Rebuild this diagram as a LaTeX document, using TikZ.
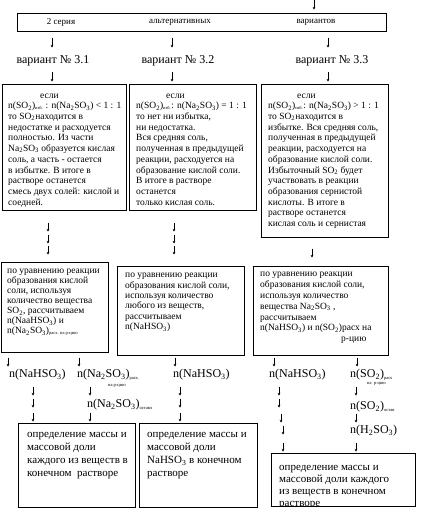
\documentclass[tikz,border=0pt]{standalone}
\usepackage{fontspec}
\setmainfont{Liberation Serif}
\usetikzlibrary{arrows.meta}
\newcommand\lsub[1]{\textsubscript{#1}}
\newcommand\tsub[1]{\textsubscript{\fontsize{4.5}{5}\selectfont #1}}
\begin{document}
\begin{tikzpicture}[x=1pt,y=-1pt,
  frame/.style={draw, line width=0.8pt, inner sep=0pt, anchor=north west},
  btext/.style={inner sep=0pt, anchor=north west, align=left, font=\fontsize{9.5}{10.7}\selectfont},
  ltext/.style={inner sep=0pt, anchor=north west, align=left, font=\fontsize{11}{13}\selectfont},
  big/.style={inner sep=0pt, font=\fontsize{12}{14}\selectfont},
  small/.style={inner sep=0pt, font=\fontsize{9}{10}\selectfont},
  tiny/.style={inner sep=0pt, anchor=west, font=\fontsize{4.5}{5}\selectfont},
  garrow/.style={line width=0.5pt, -{Stealth[length=2.6pt,width=2.8pt]}}]
\useasboundingbox (0,0) rectangle (424,513);

% top box
\node[frame, minimum width=369pt, minimum height=18pt] (top) at (17,13) {};
\node[small] (s1) at (61,22) {2 серия};
\node[small] (s2) at (180,22) {альтернативных};
\node[small] (s3) at (316,22) {вариантов};

\node[big] (v1) at (53,61) {вариант № 3.1};
\node[big] (v2) at (178,61) {вариант № 3.2};
\node[big] (v3) at (332,61) {вариант № 3.3};

% row 1 boxes
\node[frame, minimum width=124pt, minimum height=126pt] (b1) at (2,84) {};
\node[frame, minimum width=127pt, minimum height=126pt] (b2) at (129,84) {};
\node[frame, minimum width=127pt, minimum height=153pt] (b3) at (261,84) {};

\node[btext] (t1) at (8,90.5) {\strut\hspace*{32pt}если\\
n(SO\lsub{2})\tsub{изб.} : n(Na\lsub{2}SO\lsub{3}) < 1 : 1\\
то SO\lsub{2}находится в\\
недостатке и расходуется\\
полностью. Из части\\
Na\lsub{2}SO\lsub{3} образуется кислая\\
соль, а часть - остается\\
в избытке. В итоге в\\
растворе останется\\
смесь двух солей: кислой и\\
соедней.};

\node[btext] (t2) at (136,90.5) {\strut\hspace*{30pt}если\\
n(SO\lsub{2})\tsub{изб.}: n(Na\lsub{2}SO\lsub{3}) = 1 : 1\\
то нет ни избытка,\\
ни недостатка.\\
Вся средняя соль,\\
полученная в предыдущей\\
реакции, расходуется на\\
образование кислой соли.\\
В итоге в растворе\\
останется\\
только кислая соль.};

\node[btext] (t3) at (268,90.5) {\strut\hspace*{29pt}если\\
n(SO\lsub{2})\tsub{изб.}: n(Na\lsub{2}SO\lsub{3}) > 1 : 1\\
то SO\lsub{2}находится в\\
избытке. Вся средняя соль,\\
полученная в предыдущей\\
реакции, расходуется на\\
образование кислой соли.\\
Избыточный SO\lsub{2} будет\\
участвовать в реакции\\
образования сернистой\\
кислоты. В итоге в\\
растворе останется\\
кислая соль и сернистая};

% row 2 boxes
\node[frame, minimum width=107pt, minimum height=90pt] (b4) at (1,262) {};
\node[frame, minimum width=127pt, minimum height=89pt] (b5) at (117,266) {};
\node[frame, minimum width=135pt, minimum height=89pt] (b6) at (253,266) {};

\node[btext, font=\fontsize{9.5}{10}\selectfont] (t4) at (7,266.6) {\strut по уравнению реакции\\
образования кислой\\
соли, используя\\
количество вещества\\
SO\lsub{2}, рассчитываем\\
n(NaaHSO\lsub{3}) и\\
n(Na\lsub{2}SO\lsub{3})\tsub{расх. на р-цию}};

\node[btext, font=\fontsize{9.5}{10.4}\selectfont] (t5) at (125,270.3) {\strut по уравнению реакции\\
образования кислой соли,\\
используя количество\\
любого из веществ,\\
рассчитываем\\
n(NaHSO\lsub{3})};

\node[btext, font=\fontsize{9.5}{10.8}\selectfont] (t6) at (260,269.2) {\strut по уравнению реакции\\
образования кислой соли,\\
используя количество\\
вещества Na\lsub{2}SO\lsub{3} ,\\
рассчитываем\\
n(NaHSO\lsub{3}) и n(SO\lsub{2})расх на\\
\hspace*{81pt}р-цию};

% row 3 labels
\node[big, anchor=west] (n1) at (9,375) {n(NaHSO\lsub{3})};
\node[big, anchor=west] (n2) at (77,375) {n(Na\lsub{2}SO\lsub{3})\tsub{расх.}};
\node[tiny] (n2b) at (108,386) {на р-цию};
\node[big, anchor=west] (n3) at (173,375) {n(NaHSO\lsub{3})};
\node[big, anchor=west] (n4) at (269,375) {n(NaHSO\lsub{3})};
\node[big, anchor=west] (n5) at (350,375) {n(SO\lsub{2})\tsub{расх}};
\node[tiny] (n5b) at (367,384) {на\ \ р-цию};
\node[big, anchor=west] (n6) at (87,405) {n(Na\lsub{2}SO\lsub{3})\tsub{оставл}};
\node[big, anchor=west] (n7) at (350,407) {n(SO\lsub{2})\tsub{остав}};
\node[big, anchor=west] (n8) at (350,431) {n(H\lsub{2}SO\lsub{3})};

% bottom boxes
\node[frame, minimum width=117pt, minimum height=84pt] (b7) at (18,423) {};
\node[frame, minimum width=118pt, minimum height=84pt] (b8) at (139,423) {};
\node[frame, minimum width=144pt, minimum height=53pt] (b9) at (271,453) {};

\node[ltext] (t7) at (27,428.4) {\strut определение массы и\\
массовой доли\\
каждого из веществ в\\
конечном\ \ растворе};
\node[ltext] (t8) at (147,428.4) {\strut определение массы и\\
массовой доли\\
NaHSO\lsub{3} в конечном\\
растворе};
\begin{scope}
\clip (271,453) rectangle (415,505);
\node[ltext, font=\fontsize{11}{12}\selectfont] (t9) at (279,462) {\strut определение массы и\\
массовой доли каждого\\
из веществ в конечном\\
растворе};
\end{scope}

% arrow glyphs
\foreach \x/\y in {314/5, 52/43, 172/43, 328/43, 52/77, 172/77, 328/77,
  48/227, 48/239, 48/250, 174/227, 174/239, 174/250, 312/253,
  8/362, 79/362, 175/362, 274/362, 357/362,
  33/391, 33/403, 33/417, 90/391, 90/417,
  180/391, 180/403, 180/417,
  279/391, 279/403, 281/418, 283/430, 283/447,
  356/391, 356/418, 356/447}
  \draw[garrow] (\x,\y-4.5) -- (\x,\y+4.5);
\end{tikzpicture}
\end{document}
